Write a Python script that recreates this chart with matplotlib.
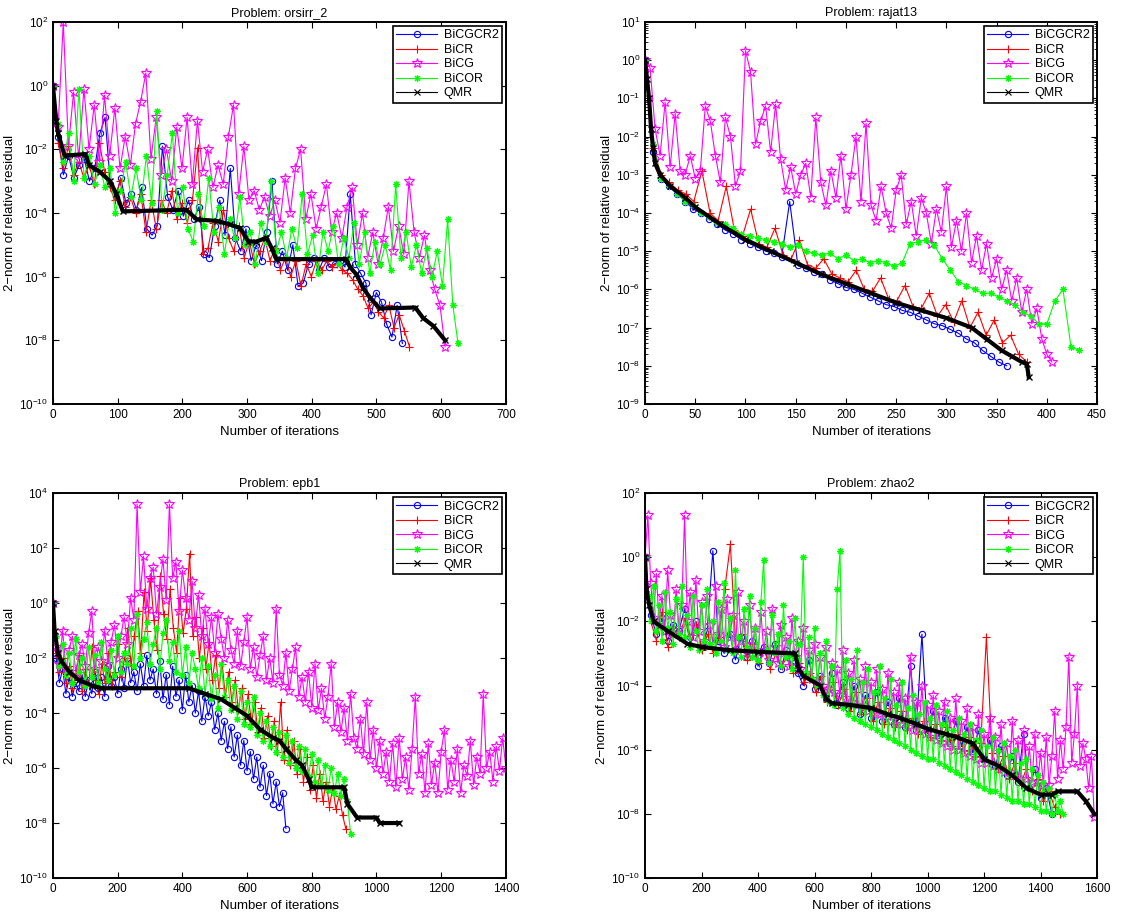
import numpy as np
import matplotlib.pyplot as plt
from matplotlib.lines import Line2D
from matplotlib.ticker import NullLocator, LogLocator

plt.rcParams['font.family'] = ['Liberation Sans', 'DejaVu Sans']
plt.rcParams['mathtext.default'] = 'regular'

methods = ['BiCGCR2', 'BiCR', 'BiCG', 'BiCOR', 'QMR']

# ---- orsirr_2 : log10 of residual (~every 8 iterations)
orsirr_ends = [540, 551, 606, 626]
orsirr_bicgcr2 = [0.0, -1.6, -2.8, -2.2, -2.9, -2.5, -2.3, -3.0, -2.6, -1.5, -1.0, -3.1, -3.5, -2.9, -3.7, -3.4,
                  -3.9, -3.2, -4.5, -4.7, -4.4, -1.9, -3.5, -3.9, -3.3, -4.1, -3.6, -4.2, -3.8, -5.3, -5.4, -4.4,
                  -3.6, -4.7, -2.6, -4.8, -5.2, -4.5, -5.5, -5.0, -5.5, -4.6, -3.0, -5.6, -5.2, -5.8, -5.0, -6.3,
                  -6.2, -5.6, -5.4, -5.8, -5.4, -5.7, -5.6, -5.5, -5.7, -3.4, -5.6, -5.9, -6.2, -7.2, -6.5, -6.8,
                  -7.5, -7.9, -6.9, -8.1]
orsirr_bicr = [0.0, -1.8, -2.6, -1.9, -2.8, -2.4, -2.9, -2.5, -3.1, -1.8, -2.7, -3.2, -3.6, -3.0, -3.8, -3.5,
               -4.0, -3.4, -4.6, -3.6, -4.5, -3.6, -4.0, -3.3, -4.2, -3.7, -4.3, -3.6, -1.95, -5.3, -5.1, -4.3,
               -4.9, -3.9, -4.8, -5.2, -4.4, -5.4, -4.9, -5.6, -5.2, -4.8, -5.5, -5.1, -5.8, -5.4, -6.0, -5.5,
               -6.3, -5.6, -6.0, -5.5, -5.8, -5.5, -5.7, -5.6, -5.8, -5.9, -6.1, -6.4, -6.6, -7.0, -6.8, -7.1,
               -7.3, -6.9, -7.6, -7.2, -7.7, -8.2]
orsirr_bicg = [0.0, -1.3, 2.0, -1.9, -0.2, -2.3, -0.1, -2.0, -0.6, -2.4, -0.3, -2.2, -0.7, -2.6, -1.6, -2.5,
               -1.2, -0.5, 0.4, -2.3, -1.0, -2.8, -2.0, -3.0, -1.3, -2.6, -1.0, -3.1, -1.1, -2.7, -2.0, -3.2,
               -2.5, -3.1, -1.6, -0.6, -3.4, -1.9, -3.6, -3.3, -3.9, -3.5, -4.1, -3.6, -4.3, -2.9, -4.0, -2.6,
               -2.0, -4.2, -3.4, -4.5, -3.8, -3.1, -4.6, -4.0, -4.8, -3.8, -3.2, -5.0, -4.0, -5.4, -4.6, -5.6,
               -4.8, -3.8, -5.2, -4.4, -5.3, -3.0, -4.6, -5.4, -4.7, -5.8, -6.4, -6.9, -8.2]
orsirr_bicor = [0.0, -1.2, -2.4, -1.5, -3.0, -0.1, -2.9, -2.2, -3.1, -2.5, -3.2, -2.6, -4.0, -3.3, -2.4, -3.5,
                -2.6, -3.6, -2.2, -3.7, -0.8, -3.9, -2.8, -1.5, -4.0, -3.2, -4.5, -4.9, -3.4, -4.4, -2.9, -4.6,
                -3.8, -5.3, -4.2, -4.8, -3.5, -5.0, -4.6, -5.6, -4.3, -4.9, -3.0, -5.2, -4.6, -5.4, -4.5, -5.1,
                -3.4, -5.3, -4.7, -5.9, -4.6, -5.2, -4.4, -5.6, -4.8, -5.4, -4.3, -5.6, -4.6, -5.9, -4.9, -5.6,
                -5.0, -5.8, -3.1, -5.4, -4.6, -5.7, -5.0, -5.9, -5.1, -6.0, -5.2, -6.3, -4.2, -6.9, -8.1]
orsirr_qmr_it = [0, 5, 8, 18, 50, 56, 72, 88, 98, 108, 206, 222, 253, 273, 289, 302, 314, 330, 338, 345,
                 453, 459, 469, 479, 490, 505, 560, 572, 588, 606]
orsirr_qmr = [0.0, -1.1, -1.5, -2.2, -2.15, -2.5, -2.7, -3.0, -3.4, -3.95, -3.9, -4.2, -4.25, -4.36, -4.47,
              -4.9, -4.9, -4.78, -5.1, -5.45, -5.45, -5.7, -5.93, -6.35, -6.66, -7.0, -6.97, -7.3, -7.55, -8.0]

# ---- rajat13
rajat_ends = [360, 380, 405, 432]
rajat_bicgcr2 = [0.0, -2.4, -3.1, -3.3, -3.5, -3.7, -3.9, -4.0, -4.15, -4.3, -4.45, -4.55, -4.7, -4.8, -4.9,
                 -5.0, -5.05, -5.15, -3.7, -5.35, -5.45, -5.55, -5.6, -5.75, -5.85, -5.95, -6.0, -6.1, -6.2,
                 -6.3, -6.4, -6.45, -6.55, -6.6, -6.7, -6.8, -6.9, -6.95, -7.05, -7.15, -7.3, -7.4, -7.6,
                 -7.75, -7.9, -8.0]
rajat_bicr = [0.0, -2.3, -3.0, -3.2, -3.4, -3.5, -3.7, -2.9, -4.0, -4.2, -3.3, -4.45, -4.6, -3.9, -4.8, -4.9,
              -4.4, -5.1, -5.2, -4.7, -5.35, -5.45, -5.2, -5.6, -5.7, -5.8, -5.5, -6.0, -6.05, -5.7, -6.25,
              -6.3, -5.9, -6.45, -6.5, -6.1, -6.7, -6.4, -6.85, -6.3, -7.0, -6.6, -7.2, -6.8, -7.4, -7.2,
              -7.7, -7.9]
rajat_bicg = [0.0, -0.2, -1.8, -2.5, -1.1, -2.8, -1.4, -2.9, -3.0, -2.5, -3.1, -2.9, -1.2, -1.6, -2.5, -3.2,
              -1.5, -2.0, -3.3, -2.9, 0.25, -0.3, -2.2, -1.6, -1.2, -2.4, -1.15, -2.6, -3.4, -2.8, -3.5, -3.0,
              -2.7, -3.6, -1.5, -3.2, -3.8, -2.9, -3.6, -2.5, -3.9, -3.0, -2.0, -3.7, -1.65, -3.8, -4.2, -3.3,
              -4.0, -4.4, -3.4, -3.0, -4.3, -3.7, -4.6, -3.6, -4.0, -4.8, -3.9, -4.5, -3.3, -4.9, -4.2, -5.0,
              -4.0, -5.3, -4.6, -5.5, -4.8, -5.7, -5.2, -6.0, -5.5, -6.3, -5.7, -6.6, -6.0, -6.9, -6.5, -7.3,
              -7.7, -7.9]
rajat_bicor = [0.0, -2.2, -3.1, -3.3, -3.5, -3.7, -3.8, -4.0, -4.1, -4.25, -4.3, -4.4, -4.55, -4.6, -4.65,
               -4.7, -4.75, -4.8, -4.9, -4.85, -5.0, -5.05, -5.1, -5.05, -5.2, -5.1, -5.25, -5.2, -5.3, -5.25,
               -5.3, -5.4, -5.3, -4.8, -4.75, -4.7, -4.85, -5.2, -5.5, -5.8, -5.9, -6.0, -6.1, -6.1, -6.2,
               -6.3, -6.4, -6.6, -6.7, -6.9, -6.9, -6.3, -6.0, -7.5, -7.6]
rajat_qmr_it = [0, 2, 4, 6, 8, 10, 15, 25, 40, 50, 75, 100, 125, 150, 175, 200, 225, 250, 275, 300, 325,
                340, 355, 365, 375, 380, 382]
rajat_qmr = [0.0, -0.5, -1.0, -1.8, -2.3, -2.7, -3.0, -3.3, -3.6, -3.85, -4.3, -4.7, -5.0, -5.3, -5.6, -5.85,
             -6.1, -6.35, -6.55, -6.75, -7.0, -7.3, -7.6, -7.75, -7.9, -7.95, -8.3]

# ---- epb1 (~every 10 iterations)
epb_ends = [720, 905, 1400, 920]
epb_bicgcr2 = [0.0, -2.0, -2.9, -2.4, -3.3, -2.7, -3.4, -2.9, -3.2, -2.6, -3.4, -2.8, -3.3, -2.5, -3.1, -2.7,
               -3.4, -2.3, -3.0, -2.7, -3.3, -2.4, -3.1, -2.0, -2.9, -2.5, -3.2, -2.2, -3.0, -1.9, -2.8, -2.4,
               -3.3, -2.1, -3.5, -2.6, -3.7, -2.3, -3.4, -2.8, -3.9, -2.6, -3.6, -3.0, -4.0, -3.2, -4.3, -3.4,
               -4.1, -3.6, -4.6, -4.0, -5.0, -4.3, -5.3, -4.5, -5.6, -4.8, -5.9, -5.0, -6.1, -5.4, -6.4, -5.6,
               -6.7, -5.9, -7.0, -6.2, -7.3, -6.5, -7.4, -6.9, -8.2]
epb_bicr = [0.0, -1.8, -2.5, -2.0, -2.9, -2.3, -3.1, -2.6, -1.9, -3.2, -2.4, -3.0, -1.6, -2.8, -3.3, -2.2,
            -2.9, -1.8, -3.0, -2.5, -1.5, -2.7, -2.0, -0.9, -2.3, -1.2, -0.3, -1.8, 0.4, -1.0, 0.9, -0.6,
            -1.7, 1.0, -0.4, -1.3, 0.5, -0.9, -1.8, 0.2, -1.1, -0.2, 1.8, -1.2, -0.5, -2.0, -0.9, -2.4,
            -1.4, -2.8, -1.9, -3.1, -2.2, -3.4, -2.5, -3.6, -2.8, -3.9, -3.1, -4.2, -3.3, -4.4, -3.6, -4.7,
            -3.8, -4.9, -4.1, -5.2, -4.3, -5.4, -3.6, -5.7, -4.6, -5.9, -5.0, -6.2, -5.3, -6.5, -5.6, -6.8,
            -5.9, -7.1, -6.2, -7.2, -6.5, -7.4, -6.7, -7.5, -7.0, -7.7, -8.2]
epb_bicg = [0.0, -1.6, -2.2, -1.0, -2.4, -1.7, -1.2, -2.5, -1.9, -1.5, -2.3, -1.1, -0.3, -2.4, -1.6, -2.1,
            -1.0, -2.2, -1.4, -0.8, -2.0, -1.2, -0.5, -1.5, 0.2, -0.6, 3.6, 0.4, 1.7, -0.2, 0.9, 1.3,
            -0.4, 0.6, 1.6, 0.1, 3.6, 0.9, 1.5, -0.3, 1.2, 0.2, -0.6, 0.8, -0.9, 0.3, -1.2, -0.2,
            -1.5, -0.5, -1.8, -0.4, -1.3, -2.0, -0.6, -1.7, -2.2, -1.0, -2.3, -1.4, -0.5, -2.4, -1.6, -2.7,
            -1.9, -1.2, -2.8, -2.0, -2.9, -0.2, -2.6, -3.0, -1.8, -3.2, -2.4, -1.6, -3.4, -2.7, -3.6, -2.5,
            -3.8, -2.2, -3.9, -3.1, -4.2, -3.4, -2.2, -4.5, -3.6, -4.7, -3.8, -5.0, -3.3, -4.9, -5.3, -4.2,
            -5.5, -3.6, -5.7, -4.6, -6.0, -5.0, -6.2, -5.4, -6.5, -5.1, -6.7, -4.9, -6.4, -5.6, -6.8, -5.3,
            -3.4, -6.2, -5.5, -6.9, -5.1, -6.6, -5.8, -6.9, -5.4, -4.6, -6.8, -5.7, -6.5, -5.3, -6.9, -5.9,
            -6.3, -5.0, -6.6, -5.6, -6.2, -3.3, -6.0, -5.4, -6.5, -5.2, -6.1, -4.9, -6.0]
epb_bicor = [0.0, -1.2, -2.3, -1.5, -2.6, -1.8, -2.9, -1.3, -2.5, -2.0, -3.0, -1.6, -2.7, -1.9, -2.9, -1.4,
             -2.4, -2.8, -1.7, -2.6, -1.2, -2.5, -1.8, -2.2, -0.9, -2.3, -0.4, -2.0, -1.3, -0.7, -2.2, -1.5,
             -0.9, -2.4, -1.1, -0.6, -2.1, -1.4, -2.5, -1.0, -2.6, -1.6, -2.9, -1.8, -2.4, -3.1, -2.0, -3.3,
             -2.3, -3.5, -2.6, -3.8, -2.2, -3.4, -2.8, -3.9, -3.0, -4.2, -3.2, -4.4, -3.6, -4.5, -3.4, -4.8,
             -4.0, -5.0, -4.3, -5.2, -4.5, -5.4, -4.7, -5.6, -4.8, -5.8, -5.0, -6.0, -5.2, -6.1, -5.3, -6.3,
             -5.5, -6.5, -5.7, -6.6, -5.9, -6.8, -6.0, -6.9, -6.2, -7.0, -6.4, -7.2, -8.4]
epb_qmr_it = [0, 5, 15, 25, 50, 80, 120, 150, 420, 470, 520, 560, 600, 640, 680, 700, 720, 750, 770, 790,
              800, 900, 910, 940, 1000, 1010, 1070]
epb_qmr = [0.0, -1.0, -1.8, -2.1, -2.5, -2.8, -3.0, -3.1, -3.1, -3.3, -3.5, -3.8, -4.1, -4.6, -4.9, -5.0,
           -5.3, -5.7, -5.9, -6.4, -6.7, -6.7, -7.3, -7.8, -7.8, -8.0, -8.0]

# ---- zhao2
zhao_ends = [1440, 1470, 1590, 1480]
zhao_bicgcr2 = [0.0, -1.8, -2.4, -1.9, -2.6, -2.1, -2.3, -1.6, -2.5, -2.0, -2.8, -2.3, 0.2, -2.6, -3.0, -2.4,
                -3.2, -2.5, -3.1, -2.6, -3.4, -2.8, -3.3, -2.7, -3.5, -2.9, -3.4, -3.6, -4.0, -3.2, -4.1, -3.7,
                -4.4, -3.6, -4.6, -3.9, -4.7, -4.0, -4.9, -4.3, -5.0, -4.2, -5.1, -4.5, -5.2, -4.4, -5.3, -3.4,
                -5.4, -2.4, -5.5, -4.8, -5.6, -5.0, -5.8, -5.1, -5.9, -5.3, -6.1, -5.4, -6.3, -5.7, -6.5, -5.9,
                -6.8, -6.2, -7.0, -5.5, -7.2, -6.6, -7.5, -7.2, -8.0]
zhao_bicr = [0.0, -2.0, -2.6, -1.7, -2.8, -2.2, -2.5, -1.9, -2.7, -2.1, -2.9, -2.4, -3.0, -2.5, -1.0, 0.4,
             -2.9, -2.4, -3.2, -2.7, -3.3, -2.9, -3.5, -3.0, -3.4, -3.1, -3.6, -3.3, -3.9, -3.6, -4.2, -3.7,
             -4.5, -3.9, -4.6, -4.1, -4.8, -4.2, -4.9, -4.4, -5.1, -4.5, -5.2, -4.7, -5.3, -4.8, -5.4, -5.0,
             -5.5, -5.1, -5.6, -5.2, -5.7, -5.3, -5.9, -5.5, -6.0, -5.6, -6.2, -5.8, -2.5, -6.1, -6.6, -6.2,
             -6.9, -6.4, -7.1, -6.6, -7.3, -6.9, -7.6, -7.3, -7.8, -8.0]
zhao_bicg = [0.0, 1.3, -0.8, -1.9, -0.5, -2.1, -1.2, -2.3, -0.4, -1.8, -2.4, -1.0, -2.2, -1.5, 1.3, -2.0,
             -1.1, -2.5, -0.7, -2.3, -1.4, -2.6, -1.2, -2.1, -2.7, -0.9, -2.4, -1.6, -2.8, -1.3, -2.5, -1.8,
             -2.9, -1.1, -2.6, -2.0, -3.0, -1.5, -2.7, -2.2, -3.1, -1.7, -2.9, -2.3, -3.2, -1.6, -2.8, -3.3,
             -2.1, -3.0, -2.5, -3.4, -1.9, -3.1, -2.6, -3.5, -2.2, -3.6, -2.9, -3.8, -2.7, -3.9, -3.1, -4.0,
             -2.8, -4.1, -3.3, -4.2, -3.5, -4.3, -2.9, -4.4, -3.6, -4.5, -3.2, -4.6, -3.8, -4.7, -3.4, -4.8,
             -3.9, -4.9, -3.5, -4.9, -4.1, -5.0, -3.6, -5.1, -4.2, -5.2, -3.9, -5.2, -4.4, -5.3, -3.1, -5.4,
             -4.5, -5.4, -4.0, -5.5, -4.6, -5.6, -4.3, -5.7, -4.8, -5.8, -4.5, -5.9, -5.0, -6.0, -4.4, -6.0,
             -5.1, -6.1, -4.7, -6.2, -5.3, -6.3, -4.9, -6.4, -5.5, -6.4, -5.0, -6.5, -5.6, -6.6, -5.2, -6.7,
             -5.8, -6.7, -5.1, -6.8, -5.7, -6.9, -5.4, -6.9, -5.9, -7.0, -5.5, -7.0, -6.1, -7.1, -5.6, -7.1,
             -6.2, -4.8, -6.9, -5.7, -6.6, -5.3, -3.1, -6.4, -5.5, -4.0, -6.5, -5.8, -6.3, -7.2, -6.2, -8.1]
zhao_bicor = [0.0, -1.2, -2.0, -0.9, -2.3, -1.5, -2.6, -1.1, -2.2, -1.7, -2.7, -1.3, -2.4, -0.9, -2.5, -1.8,
              -2.8, -1.2, -2.3, -2.9, -1.5, -2.6, -1.0, -2.7, -2.0, -3.0, -1.4, -2.6, -0.8, -2.9, -1.9, -3.0,
              -0.4, -2.5, -3.1, -1.6, -2.8, -1.2, -3.1, -2.2, -3.2, -1.4, -0.1, -2.9, -3.3, -1.8, -3.0, -2.4,
              -3.4, -1.5, -3.1, -2.6, -3.5, -1.9, -3.2, -2.7, 0.0, -3.6, -2.5, -3.8, -2.2, -4.0, -3.0, -4.3,
              -2.6, -4.5, -3.4, -4.6, -1.0, 0.2, -4.7, -3.2, -4.9, -3.8, -5.0, -2.9, -5.1, -3.9, -5.2, -3.5,
              -5.3, -4.2, -5.4, -3.4, -5.5, -4.4, -5.6, -3.8, -5.7, -4.6, -5.8, -3.9, -5.9, -4.7, -6.0, -4.3,
              -6.1, -4.9, -6.2, -4.5, -6.3, -5.0, -6.3, -4.6, -6.4, -5.2, -6.5, -4.8, -6.6, -5.4, -6.7, -5.0,
              -6.8, -5.5, -6.9, -5.2, -7.0, -5.7, -7.1, -5.4, -7.2, -5.9, -7.3, -5.6, -7.3, -6.0, -7.4, -5.8,
              -7.5, -6.2, -7.6, -6.0, -7.6, -6.4, -7.7, -6.3, -7.7, -6.6, -7.8, -6.8, -7.9, -7.0, -7.9, -7.2,
              -8.0, -7.4, -7.9, -7.6, -8.0]
zhao_qmr_it = [0, 5, 15, 30, 80, 150, 200, 300, 400, 530, 545, 560, 620, 640, 660, 720, 800, 860, 900, 960,
               1000, 1060, 1100, 1160, 1200, 1250, 1300, 1350, 1400, 1440, 1460, 1530, 1560, 1590]
zhao_qmr = [0.0, -1.0, -1.5, -2.0, -2.3, -2.7, -2.8, -2.9, -2.95, -3.0, -3.5, -3.7, -4.0, -4.4, -4.55, -4.6,
            -4.7, -4.9, -5.0, -5.2, -5.35, -5.5, -5.6, -5.8, -6.3, -6.5, -6.8, -7.2, -7.4, -7.4, -7.3, -7.3,
            -7.6, -8.0]

colors = ['#0000ff', '#ff0000', '#ff00ff', '#00ff00', '#000000']
markers = ['o', '+', '*', (8, 2, 0), 'x']
msizes = [4.5, 6, 7, 5, 4]


def draw_panel(ax, title, ends, series, qmr_it, qmr, xmax, xstep, ylo, yhi, ystep, minor=False):
    for i, vals in enumerate(series):
        x = np.linspace(0, ends[i], len(vals))
        ax.plot(x, 10.0 ** np.array(vals), color=colors[i], lw=0.8, marker=markers[i],
                ms=msizes[i], mfc='none', mec=colors[i], mew=0.8)
    ax.plot(qmr_it, 10.0 ** np.array(qmr), color='k', lw=3.0, marker='x', ms=4, mew=1.0)
    ax.set_yscale('log')
    ax.set_xlim(0, xmax)
    ax.set_ylim(10.0 ** ylo, 10.0 ** yhi)
    ax.set_xticks(np.arange(0, xmax + 1, xstep))
    ax.set_yticks([10.0 ** k for k in range(ylo, yhi + 1, ystep)])
    if minor:
        ax.yaxis.set_minor_locator(LogLocator(base=10, subs=np.arange(2, 10), numticks=20))
        ax.yaxis.set_minor_formatter(plt.NullFormatter())
    else:
        ax.yaxis.set_minor_locator(NullLocator())
    ax.tick_params(which='both', direction='in', top=True, right=True, labelsize=8.5)
    ax.tick_params(which='major', length=4, width=0.8)
    ax.tick_params(which='minor', length=2, width=0.6)
    for s in ax.spines.values():
        s.set_linewidth(1.4)
    ax.set_title('Problem: ' + title, fontsize=9, pad=4)
    ax.set_xlabel('Number of iterations', fontsize=9.5)
    ax.set_ylabel('2\u2212norm of relative residual', fontsize=9.5, labelpad=2)
    handles = [Line2D([0], [0], color=colors[i], lw=0.8, marker=markers[i], ms=msizes[i],
                      mfc='none', mec=colors[i], mew=0.8) for i in range(5)]
    leg = ax.legend(handles, methods, loc='upper right', fontsize=9, fancybox=False, framealpha=1,
                    edgecolor='black', borderaxespad=0.35, handlelength=3.3, labelspacing=0.2,
                    borderpad=0.25, handletextpad=0.5)
    leg.get_frame().set_linewidth(1.2)


fig = plt.figure(figsize=(11.22, 9.15), dpi=100)
ax1 = fig.add_axes([0.0472, 0.5585, 0.4037, 0.4175])
ax2 = fig.add_axes([0.5749, 0.5585, 0.4029, 0.4175])
ax3 = fig.add_axes([0.0472, 0.0404, 0.4037, 0.4208])
ax4 = fig.add_axes([0.5749, 0.0404, 0.4029, 0.4208])

draw_panel(ax1, 'orsirr_2', orsirr_ends, [orsirr_bicgcr2, orsirr_bicr, orsirr_bicg, orsirr_bicor],
           orsirr_qmr_it, orsirr_qmr, 700, 100, -10, 2, 2)
draw_panel(ax2, 'rajat13', rajat_ends, [rajat_bicgcr2, rajat_bicr, rajat_bicg, rajat_bicor],
           rajat_qmr_it, rajat_qmr, 450, 50, -9, 1, 1, minor=True)
draw_panel(ax3, 'epb1', epb_ends, [epb_bicgcr2, epb_bicr, epb_bicg, epb_bicor],
           epb_qmr_it, epb_qmr, 1400, 200, -10, 4, 2)
draw_panel(ax4, 'zhao2', zhao_ends, [zhao_bicgcr2, zhao_bicr, zhao_bicg, zhao_bicor],
           zhao_qmr_it, zhao_qmr, 1600, 200, -10, 2, 2)

fig.savefig('out.png', dpi=100)
